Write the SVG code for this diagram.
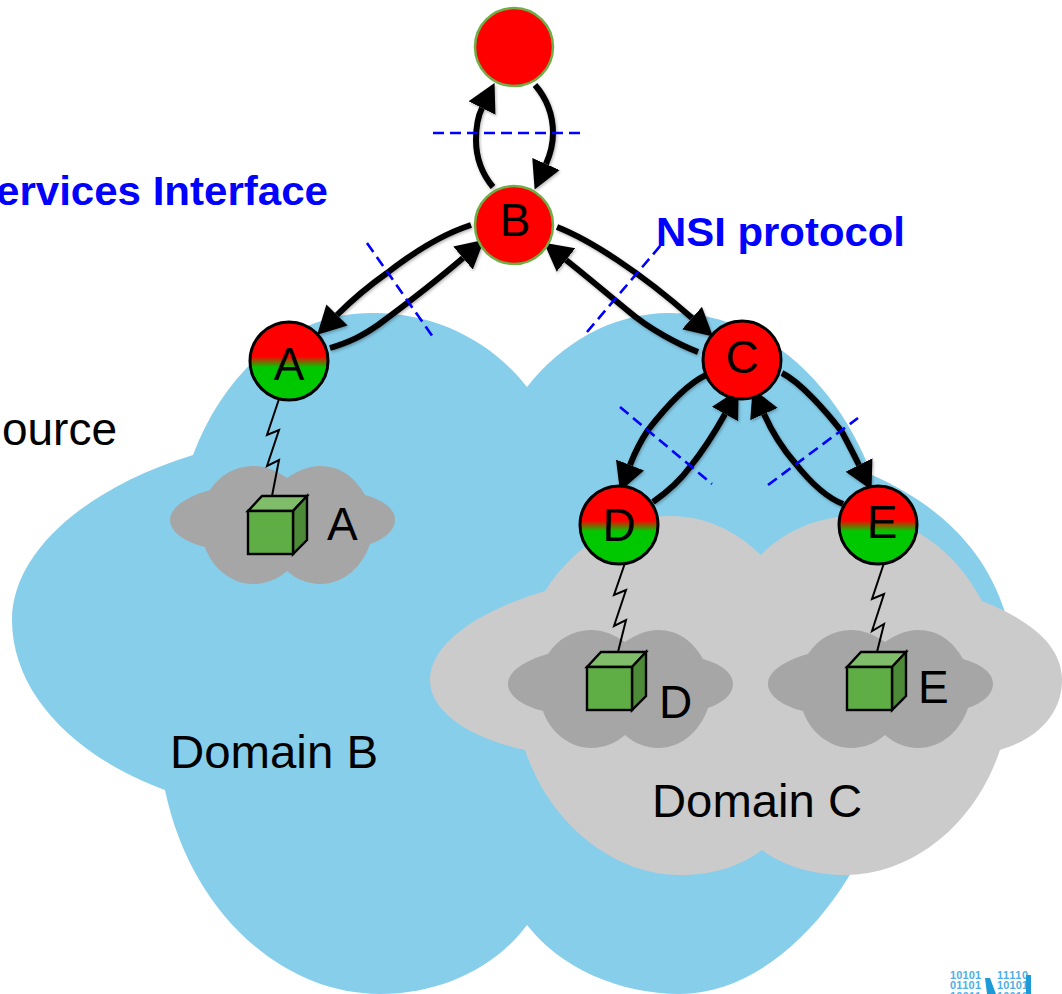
<svg xmlns="http://www.w3.org/2000/svg" xmlns:xlink="http://www.w3.org/1999/xlink" width="1062" height="994" viewBox="0 0 1062 994">
<style>
text{font-family:"Liberation Sans",Arial,sans-serif;font-size:46px;fill:#000}
.blue{font-weight:bold;font-size:40px;fill:#0000ff}
.mid{text-anchor:middle}
.bin{font-size:11px;font-weight:bold;fill:#4fb0e6;font-family:"Liberation Sans",sans-serif}
.arrow{fill:none;stroke:#000;stroke-width:6;stroke-linecap:butt;marker-end:url(#head)}
.cut{fill:none;stroke:#0000ff;stroke-width:2.6;stroke-dasharray:11 6}
.zig{fill:none;stroke:#000;stroke-width:2}
.cube{stroke:#000;stroke-width:2.4;stroke-linejoin:miter}
.nodeG{stroke:#000;stroke-width:3;fill:url(#rg)}
.nodeR{stroke:#000;stroke-width:3;fill:#ff0000}
.nodeT{stroke:#70ad47;stroke-width:2.5;fill:#ff0000}
</style>
<defs>
<linearGradient id="rg" x1="0" y1="0" x2="0" y2="1">
<stop offset="0.44" stop-color="#ff0000"/><stop offset="0.58" stop-color="#00c800"/>
</linearGradient>
<marker id="head" markerUnits="userSpaceOnUse" markerWidth="34" markerHeight="34" refX="0" refY="15" orient="auto">
<path d="M0,0 L28,15 L0,30 Z" fill="#000"/>
</marker>
<filter id="sh" x="-10%" y="-10%" width="120%" height="120%"><feDropShadow dx="1" dy="1.5" stdDeviation="1.5" flood-color="#000" flood-opacity="0.3"/></filter>
<path id="small" d="M287,478 C275,470 265,466 253,466 C235,466 220,475 210,490 C185,497 170,508 170,520 C170,532 185,542 205,547 C212,568 232,584 253,584 C266,584 278,579 287,571 C296,579 308,584 320,584 C345,584 363,565 370,544 C385,539 395,530 395,520 C395,508 382,500 365,495 C355,477 340,466 320,466 C308,466 297,471 287,478Z" fill="#a6a6a6"/>
<g id="cube">
<path class="cube" d="M248,511 L262,496 L307,496 L293,511Z" fill="#7fbd6a"/>
<path class="cube" d="M293,511 L307,496 L307,540 L293,554Z" fill="#4c8a37"/>
<rect class="cube" x="248" y="511" width="45" height="43" fill="#5fad45"/>
</g>
</defs>

<g id="domain-b-cloud">
<path d="M527,387 C490,340 435,313 373,313 C290,313 225,370 193,455 C80,490 12,555 12,620 C12,690 70,755 165,790 C190,910 280,994 380,994 C440,994 495,968 527,925 C560,968 620,994 680,994 C770,994 850,900 880,810 C960,780 1005,700 1005,612 C985,550 940,505 872,475 C840,390 770,313 670,313 C610,313 560,345 527,387Z" fill="#87ceeb"/>
</g>
<g id="domain-c-cloud">
<path d="M761,555 C735,530 705,516 670,516 C620,516 575,545 545,591 C475,612 430,645 430,680 C430,712 470,738 525,750 C550,825 615,875 680,875 C715,875 742,865 762,850 C782,865 812,875 845,875 C912,875 975,825 1000,750 C1040,738 1062,712 1062,680 C1062,645 1030,620 982,601 C955,550 910,516 855,516 C820,516 785,530 761,555Z" fill="#cbcbcb"/>
</g>
<g id="resource-a-cloud"><use xlink:href="#small" href="#small"/></g>
<g id="resource-d-cloud"><use xlink:href="#small" href="#small" x="338" y="164"/></g>
<g id="resource-e-cloud"><use xlink:href="#small" href="#small" x="598" y="164"/></g>

<g id="connectors">
<g filter="url(#sh)">
<path class="arrow" d="M493,187 C483,175 476,160 476,140 C476,128 477,118 482,108"/>
<path class="arrow" d="M535,85 C548,100 553,118 553,133 C553,145 550,155 546,164"/>
<path class="arrow" d="M471,225 C440,235 410,255 387,273 C370,285 352,300 337,315"/>
<path class="arrow" d="M330,348 C350,342 362,336 378,325 C405,305 435,282 463,258"/>
<path class="arrow" d="M557,227 C590,240 640,272 692,318"/>
<path class="arrow" d="M698,352 C680,345 650,330 627,310 C605,292 585,275 566,260"/>
<path class="arrow" d="M706,375 C685,385 662,412 648,430 C640,442 635,452 630,465"/>
<path class="arrow" d="M653,502 C670,490 682,478 690,467 C702,452 715,432 725,414"/>
<path class="arrow" d="M782,373 C800,382 825,410 842,432 C849,445 853,453 859,465"/>
<path class="arrow" d="M843,504 C825,497 810,482 795,463 C782,448 772,432 764,414"/>
</g>
<path class="cut" d="M433,133 H586"/>
<path class="cut" d="M367,243 L433,337"/>
<path class="cut" d="M587,332 L661,245"/>
<path class="cut" d="M620,407 L712,484"/>
<path class="cut" d="M768,485 L858,418"/>
<path class="zig" d="M279,399 L267,435 L279,430 L267,466 L279,460 L272,496"/>
<path class="zig" d="M625,563 L614,595 L626,590 L614,626 L626,620 L618,652"/>
<path class="zig" d="M884,563 L872,599 L884,594 L872,631 L884,624 L877,652"/>
</g>

<g id="node-top"><circle class="nodeT" cx="514" cy="47" r="39"/></g>
<g id="node-b"><circle class="nodeT" cx="514" cy="225" r="39"/><text class="mid" x="515" y="236">B</text></g>
<g id="node-a"><circle class="nodeG" cx="289" cy="361" r="39"/><text class="mid" x="289" y="380">A</text></g>
<g id="node-c"><circle class="nodeR" cx="742" cy="360" r="39"/><text class="mid" x="742" y="373">C</text></g>
<g id="node-d"><circle class="nodeG" cx="619" cy="525" r="39"/><text class="mid" x="619" y="541">D</text></g>
<g id="node-e"><circle class="nodeG" cx="878" cy="525" r="39"/><text class="mid" x="882" y="538">E</text></g>

<g id="resource-a"><use xlink:href="#cube" href="#cube"/><text x="327" y="540">A</text></g>
<g id="resource-d"><use xlink:href="#cube" href="#cube" x="339" y="156"/><text x="659" y="718">D</text></g>
<g id="resource-e"><use xlink:href="#cube" href="#cube" x="599" y="156"/><text x="918" y="703">E</text></g>

<g id="labels">
<text class="blue" x="-4" y="205" textLength="332" lengthAdjust="spacingAndGlyphs">ervices Interface</text>
<text class="blue" x="656" y="246" textLength="249" lengthAdjust="spacingAndGlyphs">NSI protocol</text>
<text x="117" y="445" text-anchor="end">ource</text>
<text x="170" y="768" textLength="208" lengthAdjust="spacingAndGlyphs">Domain B</text>
<text x="652" y="817" textLength="210" lengthAdjust="spacingAndGlyphs">Domain C</text>
</g>

<g id="logo">
<text class="bin" x="950" y="979" textLength="31">10101</text><text class="bin" x="997" y="979" textLength="31">11110</text>
<text class="bin" x="950" y="989" textLength="31">01101</text><text class="bin" x="997" y="989" textLength="31">10101</text>
<text class="bin" x="950" y="1000" textLength="31">10011</text><text class="bin" x="997" y="1000" textLength="31">10010</text>
<path d="M985,978 L990,978 L996,994 L987,994 Z" fill="#1e9bd7"/>
<rect x="1026" y="975" width="5" height="19" fill="#1e9bd7"/>
</g>
</svg>
